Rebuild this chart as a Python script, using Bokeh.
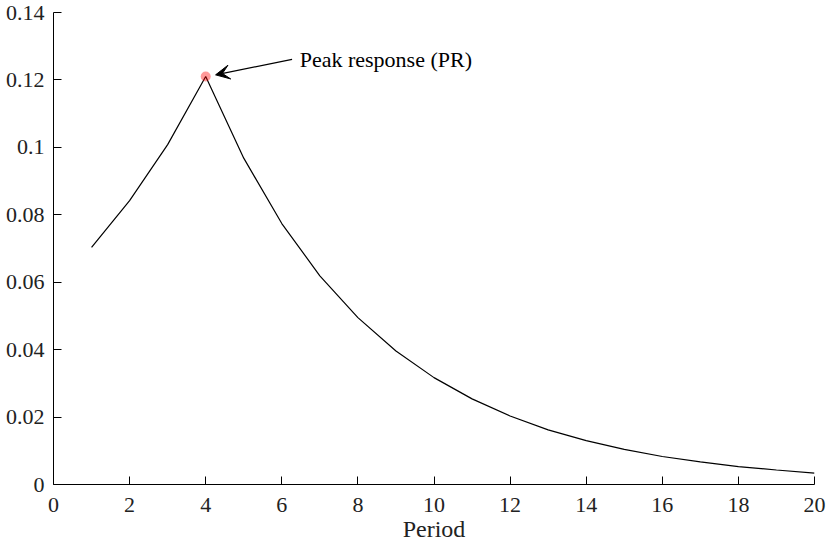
from bokeh.plotting import figure
from bokeh.models import Arrow, VeeHead, FixedTicker, Label, ColumnDataSource
from bokeh.embed import file_html
from bokeh.resources import INLINE

# Impulse response by period
period = [1, 2, 3, 4, 5, 6, 7, 8, 9, 10, 11, 12, 13, 14, 15, 16, 17, 18, 19, 20]
response = [0.0703, 0.0842, 0.1008, 0.1210, 0.0968, 0.0774, 0.0619, 0.0495,
            0.0396, 0.0317, 0.0254, 0.0203, 0.0162, 0.0130, 0.0104, 0.0083,
            0.0067, 0.0053, 0.0043, 0.0034]

peak_period = [4]
peak_value = [0.1210]
peak_text = "Peak response (PR)"

x_ticks = [0, 2, 4, 6, 8, 10, 12, 14, 16, 18, 20]
y_ticks = [0, 0.02, 0.04, 0.06, 0.08, 0.1, 0.12, 0.14]
y_tick_labels = ["0", "0.02", "0.04", "0.06", "0.08", "0.1", "0.12", "0.14"]

FONT = "'Liberation Serif', 'Times New Roman', serif"
TEXT = "#222222"

p = figure(width=827, height=549, x_range=(0, 20), y_range=(0, 0.14),
           output_backend="svg", toolbar_location=None,
           min_border_left=53, min_border_right=13,
           min_border_top=12, min_border_bottom=65)
p.outline_line_color = None
p.grid.visible = False
p.background_fill_color = "white"
p.border_fill_color = "white"

src = ColumnDataSource(dict(x=period, y=response))
p.line("x", "y", source=src, line_color="black", line_width=1.2)

p.scatter(peak_period, peak_value, size=10, fill_color="#ff0000",
          fill_alpha=0.4, line_color=None)

# annotation arrow pointing at the peak
p.add_layout(Arrow(end=VeeHead(size=14, fill_color="black", line_color="black"),
                   x_start=6.27, y_start=0.1261, x_end=4.26, y_end=0.1215,
                   line_color="black", line_width=1.2))
p.add_layout(Label(x=6.47, y=0.1261, text=peak_text, text_font=FONT,
                   text_font_size="22px", text_baseline="middle",
                   text_color="black"))

for ax in (p.xaxis[0], p.yaxis[0]):
    ax.major_tick_in = 8
    ax.major_tick_out = 0
    ax.minor_tick_line_color = None
    ax.axis_line_color = "black"
    ax.major_tick_line_color = "black"
    ax.major_label_text_font = FONT
    ax.major_label_text_font_size = "22px"
    ax.major_label_text_color = TEXT
    ax.axis_label_text_font = FONT

p.xaxis.ticker = FixedTicker(ticks=x_ticks)
p.yaxis.ticker = FixedTicker(ticks=y_ticks)
p.yaxis.major_label_overrides = {t: s for t, s in zip(y_ticks, y_tick_labels)}
p.xaxis.major_label_standoff = 13
p.yaxis.major_label_standoff = 9

p.xaxis.axis_label = "Period"
p.xaxis.axis_label_text_font_size = "24px"
p.xaxis.axis_label_text_font_style = "normal"
p.xaxis.axis_label_text_color = TEXT
p.xaxis.axis_label_standoff = 1

open("out.html", "w").write(file_html(p, INLINE))
